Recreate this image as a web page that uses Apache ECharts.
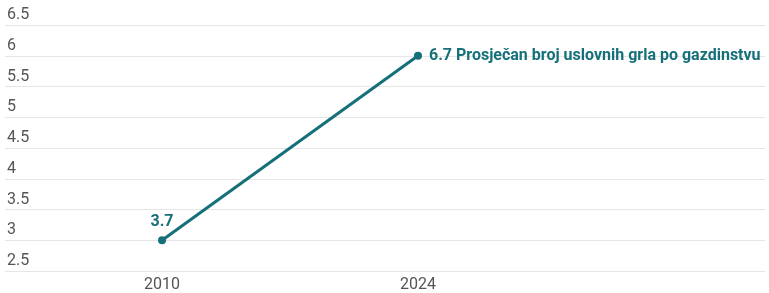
<!DOCTYPE html>
<html>
<head>
<meta charset="utf-8">
<script src="https://cdn.jsdelivr.net/npm/echarts@6/dist/echarts.min.js"></script>
<style>
  html, body { margin: 0; padding: 0; background: #fff; }
  #chart { width: 769px; height: 293px; }
</style>
</head>
<body>
<div id="chart"></div>
<script>
// podaci
var years = [2010, 2024];
var values = [3, 6];
var valueLabels = ['3.7', '6.7 Prosječan broj uslovnih grla po gazdinstvu'];
var yTicks = [2.5, 3, 3.5, 4, 4.5, 5, 5.5, 6, 6.5];

var boja = '#15707a';

var myChart = echarts.init(document.getElementById('chart'));

var seriesData = [];
for (var i = 0; i < years.length; i++) {
	seriesData.push({
		value: [years[i], values[i]],
		label: {
			show: true,
			position: i == 0 ? 'top' : 'right',
			distance: i == 0 ? 6 : 7,
			formatter: valueLabels[i]
		}
	});
}

var option = {
	animation: false,
	grid: { left: 5, right: 4, top: 25, bottom: 22 },
	xAxis: {
		type: 'value',
		min: 2001.41,
		max: 2042.98,
		axisLine: { show: false },
		axisTick: { show: false },
		splitLine: { show: false },
		axisLabel: {
			customValues: years,
			color: '#555',
			fontFamily: 'Roboto',
			fontSize: 16,
			margin: 6,
			formatter: function (v) { return String(v); }
		}
	},
	yAxis: {
		type: 'value',
		min: 2.5,
		max: 6.5,
		interval: 0.5,
		axisLine: { show: false },
		axisTick: { show: false },
		splitLine: { lineStyle: { color: '#e6e6e6', width: 1 } },
		axisLabel: {
			inside: true,
			align: 'left',
			verticalAlign: 'bottom',
			margin: 2,
			padding: [0, 0, 2, 0],
			color: '#555',
			fontFamily: 'Roboto',
			fontSize: 16
		}
	},
	series: [{
		type: 'line',
		data: seriesData,
		symbol: 'circle',
		symbolSize: 8,
		lineStyle: { color: boja, width: 3 },
		itemStyle: { color: boja },
		label: {
			color: boja,
			fontFamily: 'Roboto',
			fontWeight: 'bold',
			fontSize: 16
		}
	}]
};

myChart.setOption(option);
</script>
</body>
</html>
